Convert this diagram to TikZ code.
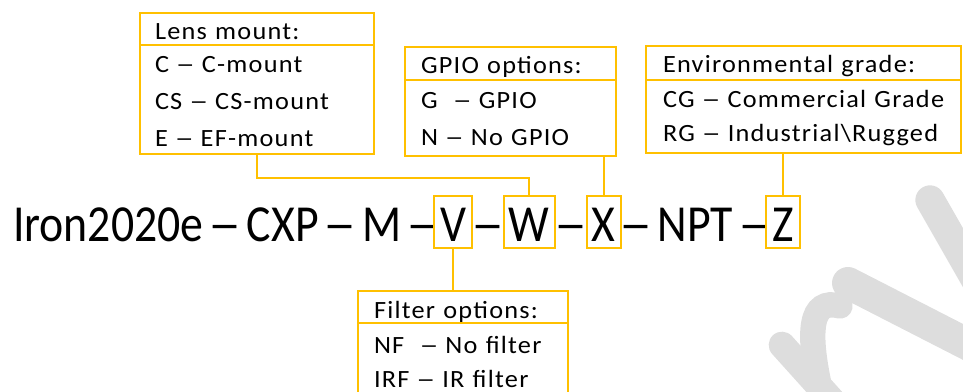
\documentclass[tikz,border=0pt]{standalone}
\usepackage{graphicx}
\usepackage{fontspec}
\setmainfont{Carlito}
\newfontfamily\partfamily[FakeStretch=0.88,Ligatures=TeX]{Carlito}
\newfontfamily\optfamily[FakeStretch=1.06,LetterSpace=5,Ligatures=TeX]{Carlito}
\usetikzlibrary{positioning}
\definecolor{gold}{RGB}{255,192,0}
\definecolor{wmgrey}{RGB}{221,221,221}
\newcommand\partfont{\partfamily\fontsize{39}{45}\selectfont}
\newcommand\optfont{\optfamily\fontsize{18.6}{27.4}\selectfont}
% en dash, wider ink: #1 = advance factor, #2 = ink factor
\newcommand\wdash[2]{\makebox[#1\fontcharwd\font"2013][c]{\scalebox{#2}[1]{–}}}
\newcommand\pdash{\wdash{1}{1.45}}
\newcommand\odash{\wdash{1.25}{1.45}}
\begin{document}
\begin{tikzpicture}
	[x=0.75pt, y=-0.75pt,
	line width=1.5pt,
	opt/.style={draw=gold, outer sep=0pt, inner ysep=0pt, align=left, font=\optfont},
	code/.style={inner sep=0pt, outer sep=0pt, font=\partfont, text height=33.75pt, text depth=5.25pt, anchor=base west},
	dashpart/.style={code, inner xsep=3.5pt},
	pick/.style={code, draw=gold},
	wm/.style={draw=wmgrey, line cap=round}]
	\useasboundingbox (0,0) rectangle (963,392);
	% watermark
	\draw[wm, line width=24pt] (848,283) -- (1010,366);
	\draw[wm, line width=22pt] (930,200) -- (990,305);
	\draw[wm, line width=20pt] (782,345) -- (845,415);
	\draw[wm, line width=19pt] (822,398) .. controls (806,330) and (810,298) .. (840,306);
	% part number
	\node[code] (pre) at (13,241) {Iron2020e \pdash{} CXP \pdash{} M \pdash\hspace{1.5pt}};
	\node[pick, minimum width=28pt] (v) at (pre.base east) {V};
	\node[dashpart] (d1) at (v.base east) {\pdash};
	\node[pick, minimum width=38pt] (w) at (d1.base east) {W};
	\node[dashpart] (d2) at (w.base east) {\pdash};
	\node[pick, minimum width=25.5pt] (x) at (d2.base east) {X};
	\node[code] (npt) at (x.base east) {\hspace{3pt}\pdash{} NPT \pdash\hspace{3pt}};
	\node[pick, minimum width=25pt] (z) at (npt.base east) {Z};
	% option boxes
	\node[opt, anchor=north west, text width=153pt, inner xsep=11.25pt] (lensH) at (140,13)
		{\rule[-3.75pt]{0pt}{24pt}Lens mount:};
	\node[opt, below=0pt of lensH, text width=153pt, inner xsep=11.25pt] (lensB)
		{\rule{0pt}{21pt}C \odash{} C-mount\\CS \odash{} CS-mount\\E \odash{} EF-mount\rule[-6pt]{0pt}{6pt}};
	\node[opt, anchor=north west, text width=134.25pt, inner xsep=12pt] (gpioH) at (405,47)
		{\rule[-4.5pt]{0pt}{24.75pt}GPIO options:};
	\node[opt, below=0pt of gpioH, text width=134.25pt, inner xsep=12pt] (gpioB)
		{\rule{0pt}{21.75pt}G~ \odash{} GPIO\\N \odash{} No GPIO\rule[-7.5pt]{0pt}{7.5pt}};
	\node[opt, anchor=north west, text width=210.75pt, inner xsep=12.75pt] (envH) at (646,46)
		{\rule[-5.25pt]{0pt}{25.5pt}Environmental grade:};
	\node[opt, below=0pt of envH, text width=210.75pt, inner xsep=12.75pt, font=\optfont\fontsize{18.6}{25.5}\selectfont] (envB)
		{\rule{0pt}{21pt}CG \odash{} Commercial Grade\\RG \odash{} Industrial\textbackslash Rugged\rule[-8.25pt]{0pt}{8.25pt}};
	\node[opt, anchor=north west, text width=133.5pt, inner xsep=12pt] (filterH) at (358,291)
		{\rule[-3.75pt]{0pt}{24pt}Filter options:};
	\node[opt, below=0pt of filterH, text width=133.5pt, inner xsep=12pt, font=\optfont\fontsize{18.6}{25.5}\selectfont] (filterB)
		{\rule{0pt}{22.5pt}NF~ \odash{} No filter\\IRF \odash{} IR filter\rule[-15pt]{0pt}{15pt}};
	% connectors
	\draw[gold] (lensB.south) -- ++(0,24) -| (w.north);
	\draw[gold] (x.north) -- (gpioB.south -| x.north);
	\draw[gold] (z.north) -- (envB.south -| z.north);
	\draw[gold] (v.south) -- (filterH.north -| v.south);
\end{tikzpicture}
\end{document}
